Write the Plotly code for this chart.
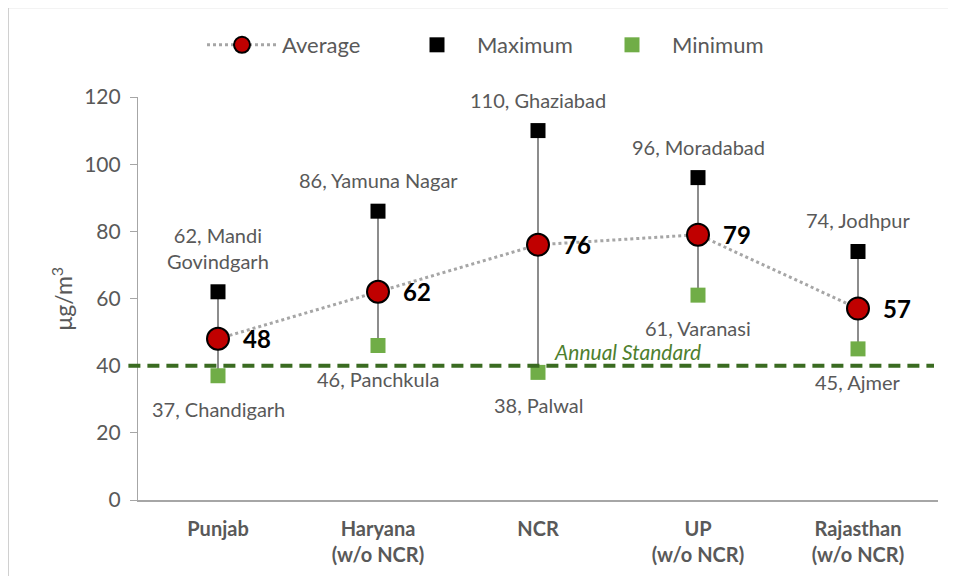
import plotly.graph_objects as go

categories = ["Punjab", "Haryana<br>(w/o NCR)", "NCR", "UP<br>(w/o NCR)", "Rajasthan<br>(w/o NCR)"]
average = [48, 62, 76, 79, 57]
maximum = [62, 86, 110, 96, 74]
minimum = [37, 46, 38, 61, 45]
max_labels = ["62, Mandi<br>Govindgarh", "86, Yamuna Nagar", "110, Ghaziabad", "96, Moradabad", "74, Jodhpur"]
min_labels = ["37, Chandigarh", "46, Panchkula", "38, Palwal", "61, Varanasi", "45, Ajmer"]
standard = 40
standard_label = "Annual Standard"

FONT = "Lato, Open Sans, sans-serif"
GRAY = "#595959"

fig = go.Figure()

# high-low lines
hx, hy = [], []
for c, lo, hi in zip(categories, minimum, maximum):
    hx += [c, c, None]
    hy += [lo, hi, None]
fig.add_trace(go.Scatter(x=hx, y=hy, mode="lines", line=dict(color="#404040", width=1.2),
                         showlegend=False, hoverinfo="skip"))

fig.add_trace(go.Scatter(x=categories, y=average, mode="lines+markers", name="Average",
                         line=dict(color="#A6A6A6", width=3, dash="dot"),
                         marker=dict(size=22, color="#C00000", line=dict(color="black", width=2))))
fig.add_trace(go.Scatter(x=categories, y=maximum, mode="markers", name="Maximum",
                         marker=dict(symbol="square", size=15, color="black")))
fig.add_trace(go.Scatter(x=categories, y=minimum, mode="markers", name="Minimum",
                         marker=dict(symbol="square", size=15, color="#70AD47")))

ann = []
for c, v, t in zip(categories, maximum, max_labels):
    ann.append(dict(x=c, y=v, text=t, showarrow=False, yanchor="bottom", yshift=17,
                    font=dict(family=FONT, size=20, color=GRAY)))
for c, v, t in zip(categories, minimum, min_labels):
    ann.append(dict(x=c, y=v, text=t, showarrow=False, yanchor="top", yshift=-19,
                    font=dict(family=FONT, size=20, color=GRAY)))
for c, v in zip(categories, average):
    ann.append(dict(x=c, y=v, text="<b>%d</b>" % v, showarrow=False, xanchor="left", xshift=23,
                    font=dict(family=FONT, size=24, color="black")))
ann.append(dict(x=2.09, y=standard, text="<i>" + standard_label + "</i>", showarrow=False,
                xanchor="left", yanchor="bottom", yshift=0,
                font=dict(family=FONT, size=21, color="#4E7F2E")))
ann.append(dict(xref="paper", yref="paper", x=-0.095, xanchor="center", y=0.5, yanchor="middle",
                text="μg/m<sup>3</sup>", textangle=-90,
                showarrow=False, font=dict(family=FONT, size=23, color=GRAY)))

fig.add_shape(type="line", xref="paper", yref="y", x0=-0.012, x1=0.995, y0=standard, y1=standard,
              line=dict(color="#3A6B21", width=4, dash="12px,7px"))
fig.add_shape(type="rect", xref="paper", yref="paper", x0=-0.1625, x1=1.2, y0=-0.5, y1=1.223,
              line=dict(color="#D0D0D0", width=2), layer="below")

fig.update_layout(
    width=956, height=576,
    margin=dict(l=130, r=26, t=89, b=84, autoexpand=False),
    plot_bgcolor="white", paper_bgcolor="white",
    annotations=ann,
    showlegend=True,
    legend=dict(orientation="h", x=0.08, xanchor="left", y=1.129, yanchor="middle",
                font=dict(family=FONT, size=22, color=GRAY), entrywidth=110, itemwidth=70,
                bgcolor="rgba(0,0,0,0)"),
    xaxis=dict(type="category", range=[-0.5, 4.5], showline=True, linecolor="#A6A6A6", linewidth=1.5,
               ticks="", showgrid=False,
               tickfont=dict(family=FONT, size=20, color=GRAY), ticklabelstandoff=10),
    yaxis=dict(range=[0, 120], dtick=20, showline=True, linecolor="#A6A6A6", linewidth=1.2,
               ticks="outside", ticklen=7, tickcolor="#A6A6A6", showgrid=False, zeroline=False,
               tickfont=dict(family=FONT, size=21, color=GRAY), ticklabelstandoff=5),
)
fig.update_xaxes(tickvals=categories, ticktext=["<b>%s</b>" % c for c in categories])

fig.write_html("out.html")
